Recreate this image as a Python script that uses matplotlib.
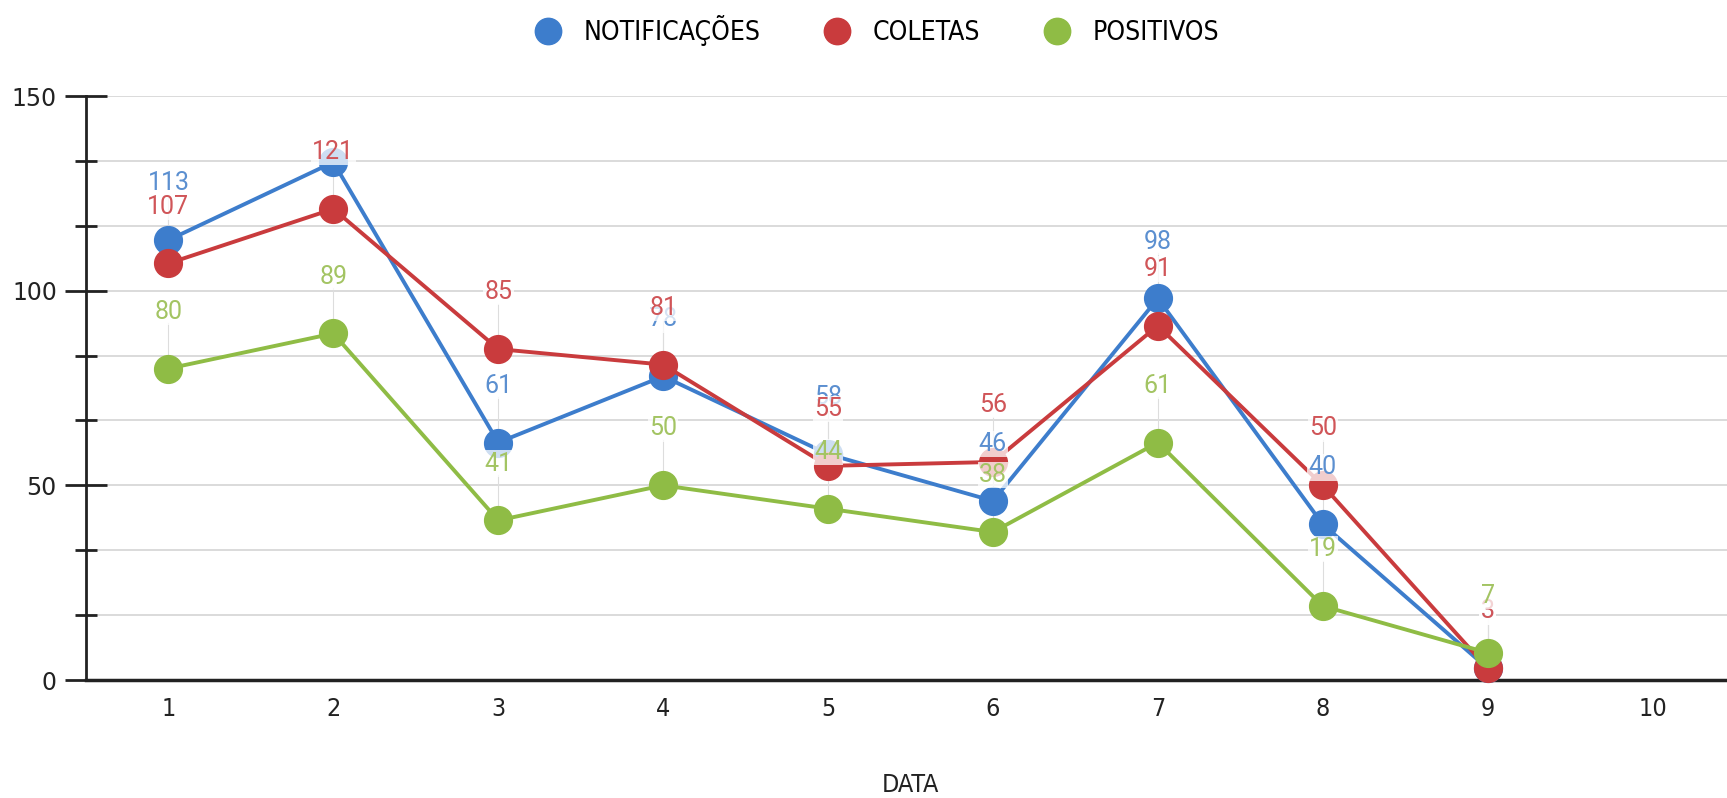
import numpy as np
import matplotlib
matplotlib.use("Agg")
import matplotlib.pyplot as plt
from matplotlib.lines import Line2D
from matplotlib.ticker import MultipleLocator

# data
days = [1, 2, 3, 4, 5, 6, 7, 8, 9]
x_ticks = [1, 2, 3, 4, 5, 6, 7, 8, 9, 10]
notificacoes = [113, 133, 61, 78, 58, 46, 98, 40, 3]
coletas = [107, 121, 85, 81, 55, 56, 91, 50, 3]
positivos = [80, 89, 41, 50, 44, 38, 61, 19, 7]
series_names = ["NOTIFICAÇÕES", "COLETAS", "POSITIVOS"]
colors = ["#3d7dcc", "#c93b3d", "#8fbc45"]
label_colors = ["#5b8fd0", "#d05558", "#a3c463"]
# the label of notificacoes at day 2 is hidden in the original
hidden_labels = [(0, 1)]

narrow = ["Liberation Sans Narrow", "DejaVu Sans"]


def draw():
    fig = plt.figure(figsize=(17.27, 7.98), dpi=100)
    ax = fig.add_axes([86 / 1727, 1 - 680 / 798, 1649 / 1727, 584 / 798])

    all_series = [notificacoes, coletas, positivos]
    for i, vals in enumerate(all_series):
        ax.plot(days, vals, color=colors[i], lw=2.8, marker="o", ms=20,
                zorder=3 + i, clip_on=False)

    # data labels sit above each point with a faint leader line
    off = 14.6
    for i, vals in enumerate(all_series):
        for j, (d, v) in enumerate(zip(days, vals)):
            if (i, j) in hidden_labels:
                continue
            ax.plot([d, d], [v, v + off - 3], color="#dddddd", lw=0.8,
                    zorder=2.5)
            ax.text(d, v + off, str(v), color=label_colors[i], fontsize=18,
                    family=["Roboto", "DejaVu Sans"], ha="center",
                    va="center", zorder=10 + i,
                    bbox=dict(boxstyle="square,pad=0.05", fc="white",
                              ec="none", alpha=0.75))

    ax.set_xlim(0.5, 10.5)
    ax.set_ylim(0, 150)
    ax.set_xticks(x_ticks)
    ax.set_xticklabels([str(t) for t in x_ticks], family=narrow, fontsize=18,
                       fontstretch="condensed")
    ax.tick_params(axis="x", length=0, pad=12, colors="#222222")
    ax.yaxis.set_major_locator(MultipleLocator(50))
    ax.yaxis.set_minor_locator(MultipleLocator(50 / 3))
    ax.tick_params(axis="y", which="major", direction="inout", length=30,
                   width=2, pad=6, labelsize=17, colors="#222222")
    ax.tick_params(axis="y", which="minor", direction="inout", length=16,
                   width=2, colors="#222222")
    ax.grid(axis="y", which="both", color="#d4d4d4", lw=1.2)
    ax.set_axisbelow(True)
    for s in ["top", "right"]:
        ax.spines[s].set_visible(False)
    ax.spines["left"].set_linewidth(2)
    ax.spines["left"].set_color("#222222")
    ax.spines["bottom"].set_linewidth(2.5)
    ax.spines["bottom"].set_color("#222222")
    ax.set_xlabel("DATA", family=narrow, fontsize=18, labelpad=38,
                  color="#222222", fontstretch="condensed", weight="medium")

    handles = [Line2D([], [], ls="none", marker="o", ms=19, color=c)
               for c in colors]
    fig.legend(handles, series_names, loc="center", ncol=3,
               bbox_to_anchor=(0.504, 0.962), frameon=False,
               prop={"family": narrow, "size": 19, "stretch": "condensed"},
               handletextpad=0.35, columnspacing=1.9)

    fig.savefig("out.png", dpi=100)


if __name__ == "__main__":
    draw()
